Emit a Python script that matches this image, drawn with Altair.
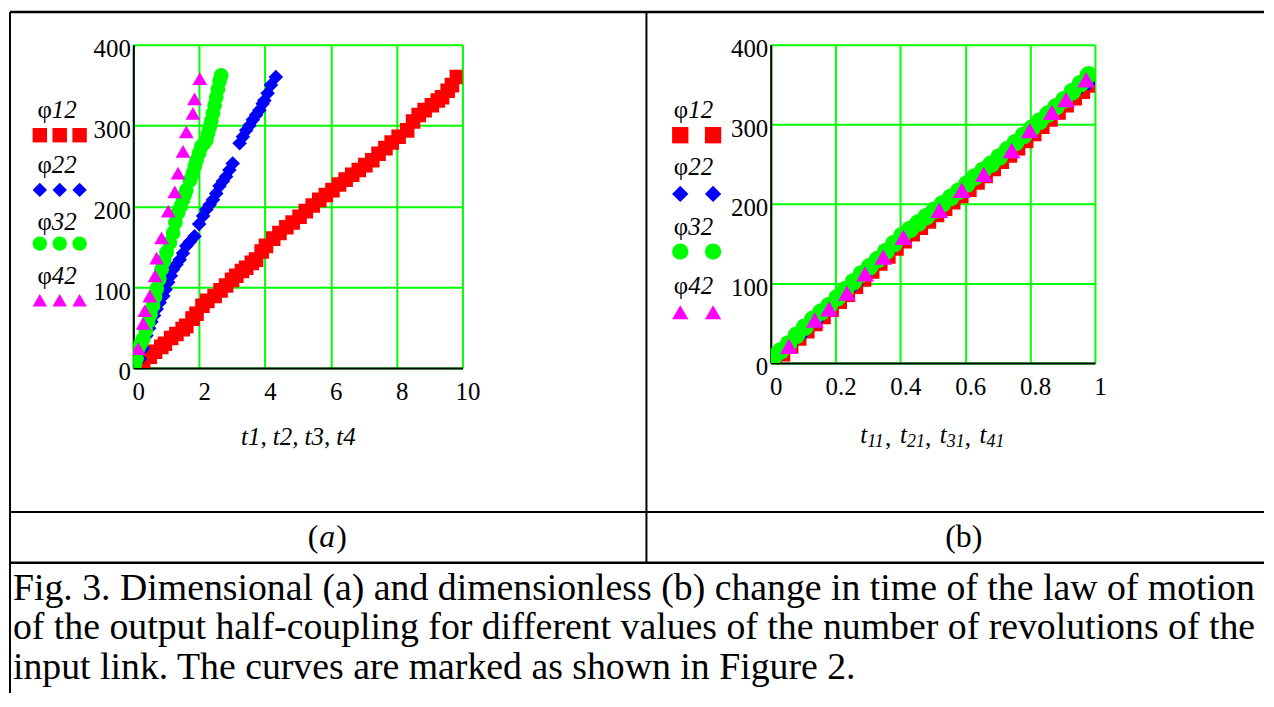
import altair as alt
import pandas as pd

# ---------------- panel (a): dimensional ----------------
a_t12 = [0.30, 0.50, 0.66, 0.85, 0.96, 1.15, 1.31, 1.50, 1.61, 1.80, 1.92, 2.10, 2.25, 2.47, 2.65,
         2.82, 3.00, 3.13, 3.30, 3.43, 3.60, 3.73, 3.90, 4.03, 4.25, 4.44, 4.65, 4.84, 5.05, 5.24,
         5.45, 5.65, 5.85, 6.05, 6.25, 6.45, 6.65, 6.85, 7.05, 7.26, 7.45, 7.66, 7.85, 8.06, 8.32,
         8.50, 8.67, 8.85, 9.07, 9.25, 9.38, 9.55, 9.68, 9.83]
a_p12 = [7, 14, 20, 26, 30, 37, 42, 48, 52, 61, 67, 77, 83, 89, 96,
         102, 109, 114, 120, 124, 130, 134, 144, 151, 160, 167, 174, 180, 187, 194,
         201, 208, 214, 220, 227, 233, 239, 245, 251, 257, 265, 272, 279, 286, 294,
         305, 313, 319, 325, 331, 335, 343, 350, 360]

a_t22 = [0.20, 0.30, 0.40, 0.48, 0.55, 0.63, 0.71, 0.80, 0.91, 0.98, 1.06, 1.14, 1.21, 1.31,
         1.41, 1.51, 1.61, 1.72, 1.86, 2.00, 2.12, 2.22, 2.32, 2.42, 2.52, 2.62, 2.72, 2.82,
         2.92, 3.02, 3.23, 3.33, 3.43, 3.53, 3.63, 3.73, 3.83, 3.93, 3.98, 4.08, 4.18, 4.33]
a_p22 = [11, 24, 40, 49, 57, 65, 73, 81, 89, 97, 106, 114, 122, 128,
         134, 142, 151, 156, 163, 178, 188, 196, 202, 208, 216, 225, 231, 237,
         245, 253, 278, 286, 294, 300, 307, 313, 319, 327, 331, 340, 350, 360]

a_t32 = [0.05, 0.10, 0.15, 0.22, 0.30, 0.38, 0.45, 0.52, 0.60, 0.66, 0.71, 0.79, 0.86, 0.94,
         1.01, 1.11, 1.21, 1.28, 1.36, 1.44, 1.51, 1.56, 1.61, 1.72, 1.81, 1.87, 1.92, 2.00,
         2.07, 2.15, 2.22, 2.27, 2.32, 2.37, 2.42, 2.47, 2.52, 2.57, 2.62, 2.67]
a_p32 = [5, 12, 24, 30, 36, 46, 57, 66, 77, 88, 98, 110, 122, 133,
         143, 155, 167, 180, 192, 200, 208, 214, 220, 232, 241, 250, 257, 266,
         274, 278, 282, 290, 298, 306, 315, 325, 335, 345, 355, 362]

a_t42 = [0.15, 0.30, 0.35, 0.50, 0.66, 0.71, 0.86, 1.06, 1.26, 1.36, 1.51, 1.61, 1.81, 1.86, 2.02]
a_p42 = [24, 55, 71, 89, 114, 136, 161, 194, 218, 241, 268, 292, 315, 333, 358]

# ---------------- panel (b): dimensionless ----------------
b_t12 = [0.010, 0.035, 0.060, 0.085, 0.110, 0.135, 0.160, 0.185, 0.210, 0.235, 0.260, 0.285,
         0.310, 0.335, 0.360, 0.385, 0.410, 0.435, 0.460, 0.485, 0.510, 0.535, 0.560, 0.585,
         0.610, 0.635, 0.660, 0.685, 0.710, 0.735, 0.760, 0.785, 0.810, 0.835, 0.860, 0.885,
         0.910, 0.935, 0.960, 0.985]
b_p12 = [3, 12, 22, 32, 41, 50, 59, 68, 78, 87, 97, 106,
         116, 126, 135, 145, 154, 163, 171, 179, 187, 195, 203, 211,
         219, 228, 236, 245, 254, 262, 271, 280, 289, 298, 307, 316,
         325, 334, 342, 350]

b_t22 = [0.02, 0.06, 0.10, 0.14, 0.18, 0.22, 0.26, 0.30, 0.34, 0.38, 0.42, 0.46, 0.50,
         0.54, 0.58, 0.62, 0.66, 0.70, 0.74, 0.78, 0.82, 0.86, 0.90, 0.94, 0.98]
b_p22 = [7, 22, 38, 53, 68, 84, 99, 115, 131, 147, 162, 176, 189,
         202, 215, 229, 243, 257, 271, 285, 299, 313, 327, 341, 352]

b_t32 = [0.010, 0.030, 0.055, 0.080, 0.105, 0.130, 0.155, 0.180, 0.205, 0.230, 0.255, 0.280,
         0.305, 0.330, 0.355, 0.380, 0.405, 0.430, 0.455, 0.480, 0.505, 0.530, 0.555, 0.580,
         0.605, 0.630, 0.655, 0.680, 0.705, 0.730, 0.755, 0.780, 0.805, 0.830, 0.855, 0.880,
         0.905, 0.930, 0.955, 0.980]
b_p32 = [8, 15, 24, 35, 45, 55, 64, 72, 82, 92, 102, 112,
         121, 130, 140, 150, 160, 168, 176, 184, 192, 200, 208, 216,
         225, 234, 242, 250, 259, 268, 277, 286, 295, 304, 313, 322,
         331, 341, 351, 362]

b_t42 = [0.056, 0.136, 0.180, 0.235, 0.291, 0.347, 0.409, 0.520, 0.589, 0.657, 0.743, 0.799,
         0.867, 0.911, 0.973]
b_p42 = [21, 54, 68, 88, 112, 133, 158, 192, 217, 237, 267, 292, 315, 331, 356]

# ---------------- ticks and texts ----------------
a_xticks = [0, 2, 4, 6, 8, 10]
b_xticks = [0, 0.2, 0.4, 0.6, 0.8, 1]
yticks = [0, 100, 200, 300, 400]
legend_idx = ["12", "22", "32", "42"]
a_xtitle = "t1, t2, t3, t4"
b_xtitle_subs = ["11", "21", "31", "41"]
caption = [
    "Fig. 3. Dimensional (a) and dimensionless (b) change in time of the law of motion",
    "of the output half-coupling for different values of the number of revolutions of the",
    "input link. The curves are marked as shown in Figure 2.",
]

SERIF = "Liberation Serif"
RED, BLUE, GREEN, MAGENTA = "#ff0000", "#0000ff", "#00ff00", "#ff00ff"
SHAPES = ["square", "diamond", "circle", "triangle-up"]
COLORS = [RED, BLUE, GREEN, MAGENTA]
LBL = 25

one = pd.DataFrame({"k": [0]})


def xaxis(values, title, title_y, fmt):
    kw = dict(values=values, format=fmt, labelFont=SERIF, labelFontSize=LBL, labelColor="black",
              labelPadding=12, labelOffset=5, labelAngle=0, labelFlush=False, labelOverlap=False,
              ticks=False, grid=True, gridColor=GREEN, gridWidth=2, gridOpacity=1,
              domainColor="black", domainWidth=2)
    if title:
        kw.update(title=title, titleY=title_y, titleBaseline="middle", titleFont=SERIF,
                  titleFontSize=25, titleFontStyle="italic", titleFontWeight="normal",
                  titleColor="black")
    else:
        kw.update(title=None)
    return alt.Axis(**kw)


def yaxis():
    return alt.Axis(values=yticks, title=None, labelFont=SERIF, labelFontSize=LBL, labelColor="black",
                    labelPadding=3, labelOffset=4, labelBaseline="middle", labelFlush=False,
                    labelOverlap=False, ticks=False, grid=True, gridColor=GREEN, gridWidth=2,
                    gridOpacity=1, domainColor="black", domainWidth=2)


def series(t, phi, k, size, xdom, xax):
    df = pd.DataFrame({"t": t, "phi": phi})
    return alt.Chart(df).mark_point(shape=SHAPES[k], filled=True, color=COLORS[k], size=size,
                                    opacity=1, strokeWidth=0, clip=True).encode(
        x=alt.X("t:Q", scale=alt.Scale(domain=xdom, nice=False, zero=False), axis=xax),
        y=alt.Y("phi:Q", scale=alt.Scale(domain=[0, 400], nice=False), axis=yaxis()),
    )


def lmark(k, size, x, y):
    return alt.Chart(one).mark_point(shape=SHAPES[k], filled=True, color=COLORS[k], size=size,
                                     opacity=1, strokeWidth=0).encode(x=alt.value(x), y=alt.value(y))


def txt(s, x, y, size=LBL, align="center", style="normal"):
    return alt.Chart(one).mark_text(text=s, font=SERIF, fontSize=size, align=align, baseline="middle",
                                    fontStyle=style, color="black").encode(x=alt.value(x), y=alt.value(y))


def hline(x1, x2, y, w):
    return alt.Chart(one).mark_rule(color="black", strokeWidth=w).encode(
        x=alt.value(x1), x2=alt.value(x2), y=alt.value(y))


def vline(x, y1, y2, w):
    return alt.Chart(one).mark_rule(color="black", strokeWidth=w).encode(
        x=alt.value(x), y=alt.value(y1), y2=alt.value(y2))


# ----- panel a -----
ax = xaxis(a_xticks, a_xtitle, 69, "d")
layers_a = [
    series(a_t12, a_p12, 0, 215, [0, 10], ax),
    series(a_t22, a_p22, 1, 215, [0, 10], ax),
    series(a_t32, a_p32, 2, 220, [0, 10], ax),
    series(a_t42, a_p42, 3, 220, [0, 10], ax),
]
a_text_y = [66, 121, 178, 233]
a_mark_y = [91, 146, 200, 257]
for k in range(4):
    layers_a.append(txt("\u03c6", -82, a_text_y[k], align="right"))
    layers_a.append(txt(legend_idx[k], -82, a_text_y[k], align="left", style="italic"))
    for mx in [-94, -74, -54]:
        layers_a.append(lmark(k, 210, mx, a_mark_y[k]))
# table frame and texts
layers_a += [
    hline(-124, 1137, -33, 2.5),
    hline(-124, 1137, 470, 2),
    hline(-124, 1137, 521, 2.5),
    vline(-124, -33, 652, 2),
    vline(516, -33, 521, 2),
    txt("(", 186, 495, size=32, align="right"),
    txt("a", 195, 495, size=32, style="italic"),
    txt(")", 204, 495, size=32, align="left"),
]
for i, line in enumerate(caption):
    layers_a.append(txt(line, -121, 547 + 40 * i, size=38, align="left"))

panel_a = alt.layer(*layers_a).properties(width=331, height=325)

# ----- panel b -----
bx = xaxis(b_xticks, None, 0, "~g")
layers_b = [
    series(b_t12, b_p12, 0, 270, [0, 1], bx),
    series(b_t22, b_p22, 1, 270, [0, 1], bx),
    series(b_t32, b_p32, 2, 320, [0, 1], bx),
    series(b_t42, b_p42, 3, 320, [0, 1], bx),
]
b_text_y = [66, 123, 183, 243]
b_mark_y = [91, 150, 208, 269]
for k in range(4):
    layers_b.append(txt("\u03c6", -83, b_text_y[k], align="right"))
    layers_b.append(txt(legend_idx[k], -83, b_text_y[k], align="left", style="italic"))
    for mx in [-91, -58]:
        layers_b.append(lmark(k, 270, mx, b_mark_y[k]))
# x title of panel b with subscripts: t11, t21, t31, t41
for g, sub in enumerate(b_xtitle_subs):
    gx = 90 + 40 * g
    layers_b.append(txt("t", gx, 393, size=25, align="left", style="italic"))
    layers_b.append(txt(sub, gx + 7, 400, size=18, align="left", style="italic"))
    if g < 3:
        layers_b.append(txt(",", gx + 25, 396, size=25, align="left"))
layers_b.append(txt("(b)", 194, 495, size=32))

panel_b = alt.layer(*layers_b).properties(width=326, height=320)

chart = alt.hconcat(panel_a, panel_b, spacing=310, bounds="flush").properties(
    padding={"left": 0, "top": 0, "right": 0, "bottom": 0}
).configure_view(stroke="black", strokeWidth=2).configure(background="white")

chart.save("out.html", embed_options={"renderer": "svg", "actions": False})
